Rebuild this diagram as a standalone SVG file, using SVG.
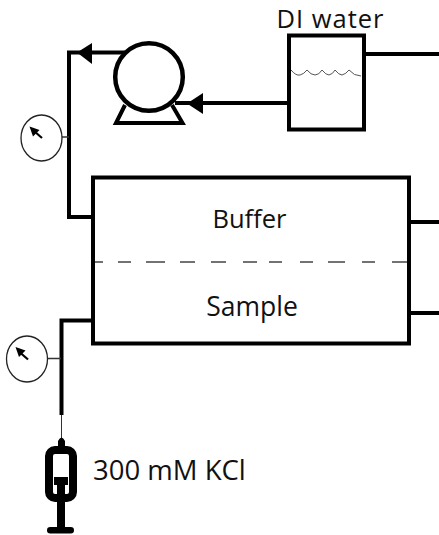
<svg xmlns="http://www.w3.org/2000/svg" width="439" height="535" viewBox="0 0 439 535">
<style>
.t{font-family:"Open Sans","Noto Sans","DejaVu Sans",sans-serif;font-size:26px;fill:#111}
.p{fill:none;stroke:#000;stroke-width:4}
.g{fill:#fff;stroke:#222;stroke-width:1.3}
.h{fill:#000}
</style>
<rect width="439" height="535" fill="#fff"/>
<g id="connectors">
<path class="p" d="M125 52.500H69V217H92"/>
<path class="p" d="M175 103H288"/>
<path class="p" d="M364 54H439"/>
<path class="p" d="M410 222H439"/>
<path class="p" d="M410 313H439"/>
<path class="p" d="M92 320.500H61.500V415"/>
<path fill="none" stroke="#333" stroke-width="1" d="M61.500 415V439"/>
<path fill="none" stroke="#333" stroke-width="1.300" d="M62 137H69M48 358.500H61"/>
<polygon class="h" points="77,52.500 92,43 92,64"/>
<polygon class="h" points="187,103.500 203,93 203,114"/>
</g>
<g id="pump">
<path class="p" d="M125 105L116 123H182.500L172 105"/>
<circle cx="149" cy="77" r="33.800" fill="#fff" stroke="#000" stroke-width="4.500"/>
</g>
<g id="gauge-top">
<ellipse class="g" cx="41.500" cy="138" rx="20.500" ry="23"/>
<path stroke="#000" stroke-width="2.200" d="M42 138L34 131"/>
<polygon class="h" points="29.500,126.500 39.500,130 33,136.500"/>
</g>
<g id="di-water">
<rect class="p" x="289" y="35.500" width="75" height="94" style="fill:#fff"/>
<path fill="none" stroke="#555" stroke-width="1" d="M291 70Q296 76 300 75Q304 74 307 70Q311 75 315 75Q319 75 322 70Q326 75 329 75Q333 74 335 70Q339 75 342 75Q346 74 349 70Q354 76 361 76"/>
<text class="t" x="330.500" y="27.500" text-anchor="middle" style="font-size:25.500px;letter-spacing:1px">DI water</text>
</g>
<g id="chamber">
<rect class="p" x="93" y="177.500" width="316" height="166" style="fill:#fff"/>
<path fill="none" stroke="#444" stroke-width="1.300" d="M95 262H103M118 262H131M146 262H165M180 262H195M211 262H226M243 262H257M269 262H282M300 262H313M328 262H345M362 262H375M392 262H407"/>
<text class="t" x="249.500" y="227.500" text-anchor="middle" style="font-size:25.500px">Buffer</text>
<text class="t" x="252" y="315.500" text-anchor="middle" style="font-size:26.500px">Sample</text>
</g>
<g id="gauge-bottom">
<ellipse class="g" cx="27" cy="359" rx="20.500" ry="23"/>
<path stroke="#000" stroke-width="2.200" d="M28 359.500L20 352.500"/>
<polygon class="h" points="15.500,347 25.500,350.500 19,357"/>
</g>
<g id="syringe">
<rect x="49" y="450" width="24" height="48" rx="6" fill="#fff" stroke="#000" stroke-width="8"/>
<path class="h" d="M58 447V441Q61.500 434 65 441V447Z"/>
<rect class="h" x="54" y="477" width="14" height="8"/>
<rect class="h" x="57" y="485" width="8" height="44"/>
<rect class="h" x="47" y="527" width="27" height="6.500" rx="3.200"/>
</g>
<g id="kcl-label"><text class="t" x="93" y="480" style="font-size:27.500px">300 mM KCl</text></g>
</svg>
